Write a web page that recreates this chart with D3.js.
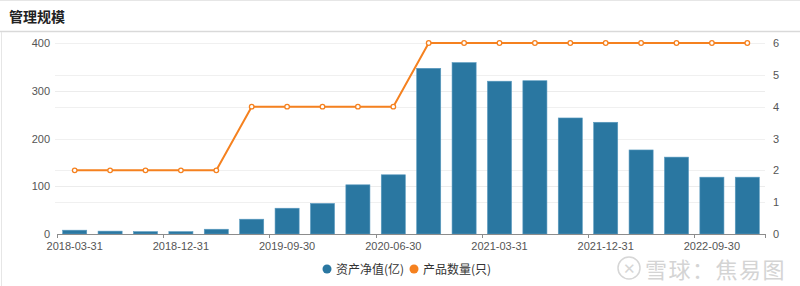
<!DOCTYPE html>
<html>
<head>
<meta charset="utf-8">
<script src="https://cdn.jsdelivr.net/npm/d3@7"></script>
<style>
  body { margin: 0; background: #fff; }
  svg { display: block; font-family: "Liberation Sans", "Noto Sans CJK SC", sans-serif; }
</style>
</head>
<body>
<svg id="chart"></svg>
<script>
"use strict";
// 数据
var dates = ["2018-03-31", "2018-06-30", "2018-09-30", "2018-12-31",
  "2019-03-31", "2019-06-30", "2019-09-30", "2019-12-31",
  "2020-03-31", "2020-06-30", "2020-09-30", "2020-12-31",
  "2021-03-31", "2021-06-30", "2021-09-30", "2021-12-31",
  "2022-03-31", "2022-06-30", "2022-09-30", "2022-12-31"];
var netAssets = [8, 6, 5, 5, 10, 31, 54, 64, 103, 124, 347, 359, 320, 321, 243, 234, 176, 161, 119, 119];
var productCount = [2, 2, 2, 2, 2, 4, 4, 4, 4, 4, 6, 6, 6, 6, 6, 6, 6, 6, 6, 6];
var leftTicks = [0, 100, 200, 300, 400];
var rightTicks = [0, 1, 2, 3, 4, 5, 6];
var seriesNames = ["资产净值(亿)", "产品数量(只)"];

function chart(idname, {
  width = 800,
  height = 286,
  marginTop = 43,
  marginBottom = 52, // 234
  marginLeft = 57,
  marginRight = 35,  // 765
} = {}) {
  var blue = "#2a77a1", orange = "#f5811f";
  var svg = d3.select(`#${idname}`)
    .attr("width", width)
    .attr("height", height);

  // 标题栏
  svg.append("line")
    .attr("x1", 0).attr("x2", width).attr("y1", 0.5).attr("y2", 0.5)
    .attr("stroke", "#e6e6e6");
  svg.append("line")
    .attr("x1", 0).attr("x2", width).attr("y1", 31.5).attr("y2", 31.5)
    .attr("stroke", "#d9d9d9").attr("stroke-width", 1.5);
  svg.append("line")
    .attr("x1", 1.5).attr("x2", 1.5).attr("y1", 32).attr("y2", height)
    .attr("stroke", "#e6e6e6");
  svg.append("text")
    .attr("x", 9).attr("y", 22)
    .attr("font-family", "Noto Sans CJK SC")
    .attr("font-size", 14).attr("font-weight", "bold").attr("fill", "#222")
    .text("管理规模");

  // 比例尺
  var xScale = d3.scaleBand()
    .domain(dates)
    .range([marginLeft, width - marginRight])
    .paddingInner(0.32)
    .paddingOuter(0.16);
  var yLeft = d3.scaleLinear().domain([0, 400]).range([height - marginBottom, marginTop]);
  var yRight = d3.scaleLinear().domain([0, 6]).range([height - marginBottom, marginTop]);
  var step = (width - marginLeft - marginRight) / dates.length;
  var center = (d) => xScale(d) + xScale.bandwidth() / 2;

  // 网格线
  svg.append("g").selectAll("line")
    .data(leftTicks.slice(1))
    .enter().append("line")
    .attr("x1", marginLeft - 2).attr("x2", width - marginRight)
    .attr("y1", (d) => Math.round(yLeft(d)) + 0.5).attr("y2", (d) => Math.round(yLeft(d)) + 0.5)
    .attr("stroke", "#ececec");
  svg.append("g").selectAll("line")
    .data(rightTicks.slice(1))
    .enter().append("line")
    .attr("x1", marginLeft - 2).attr("x2", width - marginRight)
    .attr("y1", (d) => Math.round(yRight(d)) + 0.5).attr("y2", (d) => Math.round(yRight(d)) + 0.5)
    .attr("stroke", "#f0f0f0");

  // 坐标轴
  var yAxisL = d3.axisLeft(yLeft).tickValues(leftTicks).tickSize(0).tickPadding(7);
  svg.append("g")
    .attr("transform", `translate(${marginLeft},0)`)
    .call(yAxisL)
    .call((g) => g.select(".domain").remove())
    .call((g) => g.selectAll("text").attr("fill", "#555").attr("font-size", 11)
      .attr("font-family", "Liberation Sans"));
  var yAxisR = d3.axisRight(yRight).tickValues(rightTicks).tickFormat(d3.format("d"))
    .tickSize(0).tickPadding(8);
  svg.append("g")
    .attr("transform", `translate(${width - marginRight},0)`)
    .call(yAxisR)
    .call((g) => g.select(".domain").remove())
    .call((g) => g.selectAll("text").attr("fill", "#555").attr("font-size", 11)
      .attr("font-family", "Liberation Sans"));

  // 柱子
  svg.append("g").selectAll("rect")
    .data(netAssets)
    .enter().append("rect")
    .attr("x", (d, i) => xScale(dates[i]))
    .attr("y", (d) => yLeft(d))
    .attr("width", xScale.bandwidth())
    .attr("height", (d) => yLeft(0) - yLeft(d))
    .attr("fill", blue)
    .attr("stroke", "#5b9bc0")
    .attr("stroke-width", 0.6);

  // x轴
  var xAxis = svg.append("g").attr("transform", `translate(0,${height - marginBottom})`);
  xAxis.append("line")
    .attr("x1", marginLeft).attr("x2", width - marginRight)
    .attr("y1", 0.5).attr("y2", 0.5)
    .attr("stroke", "#8c8c8c");
  var tickIdx = d3.range(0, dates.length, 3);
  xAxis.selectAll(".tk")
    .data(tickIdx.concat([dates.length]))
    .enter().append("line")
    .attr("x1", (i) => Math.round(marginLeft + i * step) + 0.5)
    .attr("x2", (i) => Math.round(marginLeft + i * step) + 0.5)
    .attr("y1", 0).attr("y2", 4)
    .attr("stroke", "#8c8c8c");
  xAxis.selectAll("text")
    .data(tickIdx)
    .enter().append("text")
    .attr("x", (i) => center(dates[i]))
    .attr("y", 16)
    .attr("text-anchor", "middle")
    .attr("font-size", 11)
    .attr("fill", "#555")
    .text((i) => dates[i]);

  // 折线
  var line = d3.line()
    .x((d, i) => center(dates[i]))
    .y((d) => yRight(d));
  svg.append("path")
    .datum(productCount)
    .attr("d", line)
    .attr("fill", "none")
    .attr("stroke", orange)
    .attr("stroke-width", 2);
  svg.append("g").selectAll("circle")
    .data(productCount)
    .enter().append("circle")
    .attr("cx", (d, i) => center(dates[i]))
    .attr("cy", (d) => yRight(d))
    .attr("r", 2.3)
    .attr("fill", "#fff")
    .attr("stroke", orange)
    .attr("stroke-width", 1.3);

  // 水印
  var wm = svg.append("g").attr("opacity", 0.9);
  wm.append("circle")
    .attr("cx", 629).attr("cy", 268).attr("r", 11)
    .attr("fill", "none").attr("stroke", "#d2d2d2").attr("stroke-width", 1.5);
  wm.append("text")
    .attr("x", 629).attr("y", 274)
    .attr("text-anchor", "middle")
    .attr("font-size", 15).attr("fill", "#d2d2d2")
    .text("✕");
  wm.append("text")
    .attr("x", 645).attr("y", 278)
    .attr("font-family", "Noto Sans CJK SC")
    .attr("font-size", 22).attr("fill", "#d0d0d0")
    .attr("letter-spacing", 1.5)
    .text("雪球：焦易图");

  // 图例
  var colors = [blue, orange];
  var legendX = [327, 414];
  var legend = svg.append("g").selectAll("g")
    .data(seriesNames)
    .enter().append("g")
    .attr("transform", (d, i) => `translate(${legendX[i]},269)`);
  legend.append("circle")
    .attr("r", 4.5)
    .attr("fill", (d, i) => colors[i]);
  legend.append("text")
    .attr("x", 9).attr("y", 4.5)
    .attr("font-family", "Noto Sans CJK SC")
    .attr("font-size", 12)
    .attr("fill", "#333")
    .text((d) => d);

  return svg.node();
}

chart("chart");
</script>
</body>
</html>
